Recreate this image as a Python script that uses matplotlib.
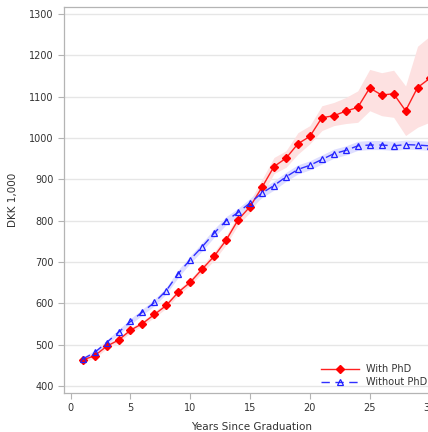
import matplotlib
matplotlib.use("Agg")
import matplotlib.pyplot as plt
import numpy as np

years = np.arange(1, 31)

phd = [463, 473, 496, 511, 535, 551, 573, 595, 627, 651,
       683, 714, 753, 802, 834, 881, 931, 951, 986, 1004,
       1049, 1054, 1065, 1074, 1121, 1104, 1107, 1066, 1122, 1144]
phd_lo = [457, 467, 490, 505, 529, 545, 566, 588, 620, 644,
          674, 704, 742, 790, 820, 862, 914, 929, 961, 986,
          1018, 1030, 1035, 1038, 1066, 1054, 1050, 1006, 1026, 1038]
phd_hi = [469, 479, 502, 517, 541, 557, 580, 602, 634, 658,
          692, 724, 764, 814, 848, 900, 953, 969, 1013, 1030,
          1078, 1086, 1098, 1114, 1166, 1158, 1164, 1126, 1222, 1246]

nophd = [465, 481, 505, 530, 556, 579, 602, 631, 672, 706,
         737, 770, 800, 820, 843, 867, 885, 906, 924, 934,
         948, 962, 970, 981, 983, 983, 981, 984, 983, 981]
nophd_lo = [460, 476, 499, 524, 549, 572, 594, 623, 663, 697,
            727, 760, 790, 810, 832, 856, 874, 895, 913, 923,
            937, 951, 959, 970, 972, 972, 970, 973, 972, 970]
nophd_hi = [470, 486, 511, 536, 563, 586, 610, 639, 681, 715,
            747, 780, 810, 830, 854, 878, 896, 917, 935, 945,
            959, 973, 981, 992, 994, 994, 992, 995, 994, 992]

fig = plt.figure(figsize=(4.28, 4.32), dpi=100)
ax = fig.add_axes([0.1495, 0.0903, 0.875, 0.8935])

ax.fill_between(years, phd_lo, phd_hi, color="#fde1e1", lw=0, zorder=1)
ax.fill_between(years, nophd_lo, nophd_hi, color="#dedeff", lw=0, zorder=1)

ax.plot(years, phd, color="#ff2020", lw=1, marker="D", ms=4.5,
        mfc="#ff0000", mec="#ff0000", label="With PhD", zorder=3)
ax.plot(years, nophd, color="#3030ff", lw=1, ls=(0, (6, 4)), marker="^",
        ms=4, mfc="none", mec="#2020ff", mew=0.9, label="Without PhD", zorder=3)

ax.set_xlim(-0.56, 30.75)
ax.set_ylim(383, 1317)
ax.set_xticks(range(0, 31, 5))
ax.set_yticks(range(400, 1301, 100))
ax.yaxis.grid(True, color="#e6e6e6", lw=1)
ax.set_axisbelow(True)

for s in ax.spines.values():
    s.set_color("#b4b4b4")
    s.set_linewidth(0.9)
ax.tick_params(colors="#b4b4b4", labelcolor="#333333", labelsize=7, length=4, width=0.8)

ax.set_xlabel("Years Since Graduation", fontsize=7.5, color="#333333", labelpad=6)
ax.set_ylabel("DKK 1,000", fontsize=7.5, color="#333333", labelpad=8)

leg = ax.legend(loc="lower right", bbox_to_anchor=(0.985, 0.0), frameon=False,
                fontsize=7, handlelength=3.9, handletextpad=0.7,
                labelspacing=0.3, borderaxespad=0.2)
for t in leg.get_texts():
    t.set_color("#333333")

fig.savefig("out.png", dpi=100)
